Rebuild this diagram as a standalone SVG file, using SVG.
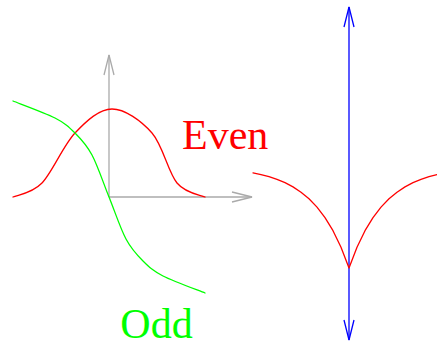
<svg xmlns="http://www.w3.org/2000/svg" width="437" height="347" viewBox="0 0 437 347">
<style>
.curve{fill:none;stroke-width:1.3;stroke-linejoin:round;stroke-linecap:round}
.axis{fill:none;stroke:#aaaaaa;stroke-width:1.3}
.lbl{font-family:"Liberation Serif","Times New Roman",serif;font-size:42px}
</style>
<defs>
<marker id="ag" markerUnits="userSpaceOnUse" markerWidth="22" markerHeight="12" refX="20" refY="6" orient="auto-start-reverse" overflow="visible">
<path d="M0,1 L20,6 L0,11" fill="none" stroke="#aaaaaa" stroke-width="1.3"/>
</marker>
<marker id="ab" markerUnits="userSpaceOnUse" markerWidth="22" markerHeight="12" refX="20" refY="6" orient="auto-start-reverse" overflow="visible">
<path d="M0,1 L20,6 L0,11" fill="none" stroke="#0000ff" stroke-width="1.3"/>
</marker>
</defs>
<g id="axes">
<line class="axis" x1="109" y1="197" x2="109" y2="55" marker-end="url(#ag)"/>
<line class="axis" x1="109" y1="197" x2="252" y2="197" marker-end="url(#ag)"/>
</g>
<g id="even-curve">
<path class="curve" stroke="#ff0000" d="M13,197 C17.8,194.7 31.7,193.7 42,183 C52.3,172.3 63.3,145.3 75,133 C86.7,120.7 99.2,109 112,109 C124.8,109 141.2,120.7 152,133 C162.8,145.3 168.2,172.3 177,183 C185.8,193.7 200.3,194.7 205,197"/>
</g>
<g id="odd-curve">
<path class="curve" stroke="#00ff00" d="M13,101 C20,103.8 44.7,112.7 55,118 C65.3,123.3 68.8,126.8 75,133 C81.2,139.2 86.3,144.3 92,155 C97.7,165.7 103.3,183 109,197 C114.7,211 120.3,228.3 126,239 C131.7,249.7 136.8,254.8 143,261 C149.2,267.2 152.7,270.7 163,276 C173.3,281.3 198,290.2 205,293"/>
</g>
<g id="blue-axis">
<line x1="349" y1="7" x2="349" y2="340" stroke="#0000ff" stroke-width="1.3" marker-start="url(#ab)" marker-end="url(#ab)"/>
</g>
<g id="cusp-curve">
<polyline class="curve" stroke="#ff0000" points="253,172.9 261,174.6 269,176.7 277,179.4 285,182.7 293,186.9 301,192.2 309,198.8 317,207.1 325,217.6 333,230.7 341,247.2 349,268 357,247.2 365,230.7 373,217.6 381,207.1 389,198.8 397,192.2 405,186.9 413,182.7 421,179.4 429,176.7 437,174.6"/>
</g>
<g id="labels">
<text class="lbl" x="182" y="149" fill="#ff0000">Even</text>
<text class="lbl" x="120.3" y="337.5" fill="#00ff00">Odd</text>
</g>
</svg>
